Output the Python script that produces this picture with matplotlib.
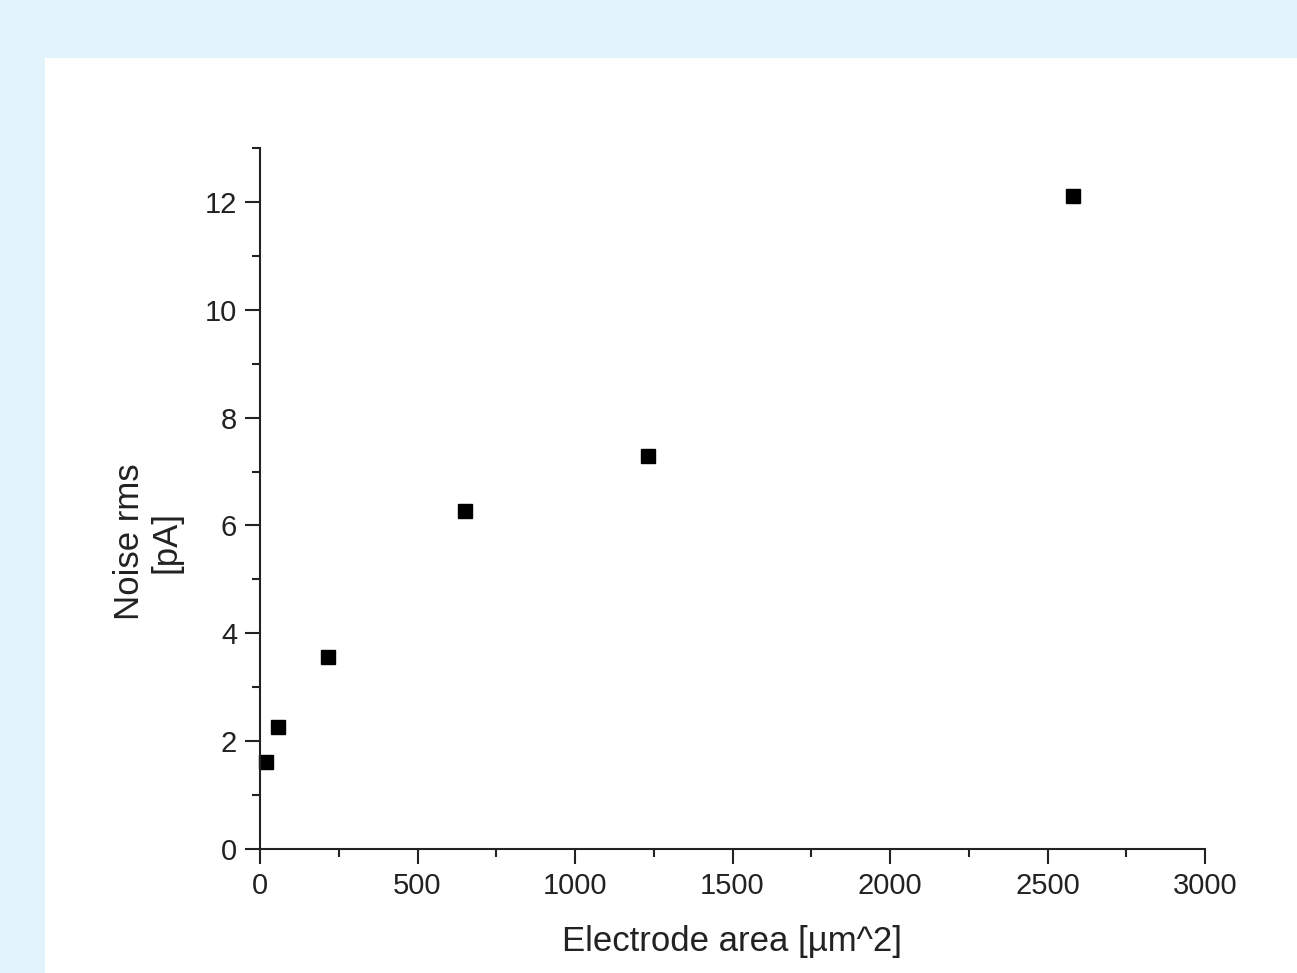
import matplotlib.pyplot as plt
from matplotlib.patches import Rectangle
from matplotlib.ticker import MultipleLocator

# Electrode area [um^2] vs. rms noise [pA]
area = [19, 57, 216, 651, 1232, 2581]
noise = [1.61, 2.26, 3.56, 6.27, 7.29, 12.11]

plt.rcParams['font.family'] = ['Liberation Sans', 'DejaVu Sans']

fig = plt.figure(figsize=(12.97, 9.73), dpi=100)
fig.patch.set_facecolor('#e3f3fb')

# white panel on the light blue page
fig.add_artist(Rectangle((45 / 1297, 0), 1 - 45 / 1297, 1 - 58 / 973,
                         transform=fig.transFigure, facecolor='white',
                         edgecolor='none', zorder=0))

ax = fig.add_axes([260 / 1297, 1 - 849 / 973, 945 / 1297, 701 / 973])
ax.set_facecolor('none')

ax.plot(area, noise, linestyle='none', marker='s', markersize=10.5,
        color='black', clip_on=False)

ax.set_xlim(0, 3000)
ax.set_ylim(0, 13)
ax.xaxis.set_major_locator(MultipleLocator(500))
ax.xaxis.set_minor_locator(MultipleLocator(250))
ax.yaxis.set_major_locator(MultipleLocator(2))
ax.yaxis.set_minor_locator(MultipleLocator(1))

for side in ['top', 'right']:
    ax.spines[side].set_visible(False)
for side in ['left', 'bottom']:
    ax.spines[side].set_linewidth(1.5)
    ax.spines[side].set_color('#222222')

ax.tick_params(which='major', direction='out', length=10.5, width=1.5,
               color='#222222', labelsize=21, labelcolor='#222222', pad=6)
ax.tick_params(which='minor', direction='out', length=5.5, width=1.5,
               color='#222222')

ax.set_xlabel('Electrode area [µm^2]', fontsize=25, color='#222222',
              labelpad=18)
fig.text(148 / 1297, 1 - 542 / 973, 'Noise rms\n[pA]', rotation=90,
         ha='center', va='center', fontsize=25, color='#222222',
         multialignment='center', linespacing=1.15)

fig.savefig('out.png', dpi=100, facecolor=fig.get_facecolor())
